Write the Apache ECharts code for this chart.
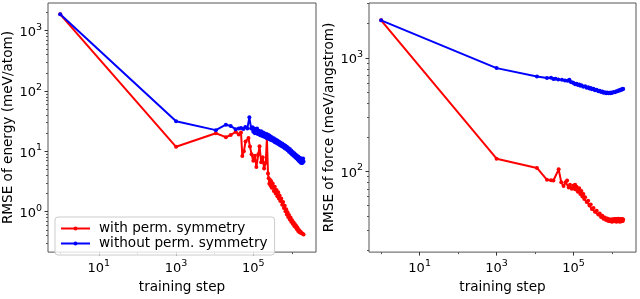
<!DOCTYPE html>
<html><head><meta charset="utf-8">
<script src="https://cdn.jsdelivr.net/npm/echarts@6/dist/echarts.min.js"></script>
<style>html,body{margin:0;padding:0;background:#fff}#c{width:640px;height:299px}</style>
</head><body><div id="c"></div>
<script>
// ---------- data ----------
const seriesNames = ['with perm. symmetry', 'without perm. symmetry'];
const xAxisName = 'training step';
const energyAxisName = 'RMSE of energy (meV/atom)';
const forceAxisName = 'RMSE of force (meV/angstrom)';

const xTickValues = [10, 1000, 100000];
const xMinorTickValues = [1, 100, 10000, 1000000];
const energyTickValues = [1, 10, 100, 1000];
const forceTickValues = [100, 1000];

// [training step, RMSE]
const energyWith = [[1,1870],[1000,11.9],[10700,20],[19500,17.2],[26000,18.7],[35000,21.1],[42000,19],[48000,20.6],[52000,8.4],[57000,10],[63000,14.6],[75000,16.6],[82000,12],[90000,9.0],[100000,7.0],[110000,8.5],[120000,5.5],[135000,9],[145000,12.2],[160000,6.6],[175000,8],[190000,5.2],[210000,6.5],[225000,16.6],[240000,4.3],
 [250000,3.6],[260000,2.9],[270000,3.4],[280000,2.7],[290000,3.2],[300000,2.5],[320000,2.9],[340000,2.2],[360000,2.6],[380000,2.0],[400000,2.3],[420000,1.8],[440000,2.1],[460000,1.65],[480000,1.85],[500000,1.5],[530000,1.65],[560000,1.3],[590000,1.45],[620000,1.15],[650000,1.25],[680000,1.02],[710000,1.1],[740000,0.9],[770000,0.98],[800000,0.82],[840000,0.88],[880000,0.74],[920000,0.8],[960000,0.68],[1000000,0.73],[1050000,0.63],[1100000,0.67],[1150000,0.58],[1200000,0.62],[1250000,0.55],[1300000,0.58],[1350000,0.51],[1400000,0.54],[1450000,0.48],[1500000,0.5],[1550000,0.46],[1600000,0.48],[1650000,0.45],[1700000,0.46],[1800000,0.44],[1900000,0.43],[2000000,0.42]];

const energyWithout = [[1,1870],[1000,31.6],[10700,22.5],[19500,27.7],[26000,26.3],[35000,23.3],[42000,24],[48000,24.5],[55000,23.5],[62000,25.4],[70000,24],[79000,36.7],[88000,23.9],[95000,25],
 [100000,21.1],[105000,24],[110000,20],[115000,23.5],[120000,21],[125000,24],[130000,19.5],[140000,22],[150000,18.5],[160000,21.5],[170000,18],[180000,20.5],[190000,17.5],[200000,19.8],[210000,17],[220000,19.5],[230000,16.5],[240000,18.8],[250000,16.2],[260000,18.3],[270000,15.8],[280000,17.6],[290000,15.5],[300000,17.2],[320000,15],[340000,16.5],[360000,14.2],[380000,15.8],[400000,13.8],[420000,15.2],[440000,13.2],[460000,14.6],[480000,12.8],[500000,14],[530000,12.3],[560000,13.5],[590000,11.8],[620000,12.9],[650000,11.3],[680000,12.4],[710000,10.9],[740000,11.9],[770000,10.4],[800000,11.4],[840000,9.9],[880000,10.9],[920000,9.4],[960000,10.3],[1000000,8.9],[1050000,9.8],[1100000,8.5],[1150000,9.3],[1200000,8.1],[1250000,8.9],[1300000,7.7],[1350000,8.5],[1400000,7.3],[1450000,8.2],[1500000,7.0],[1550000,7.9],[1600000,6.7],[1650000,7.7],[1700000,6.5],[1750000,7.6],[1800000,6.4],[1850000,7.5],[1900000,6.5],[1950000,7.6],[2000000,6.8]];

const forceWith = [[1,2140],[1000,129],[11200,107],[20400,84],[26000,83.5],[30000,83],[41000,104],[48000,80],[55000,74],[62000,80],[68000,83],[75000,72],[81000,76],[90000,70],
 [100000,75],[105000,70],[110000,76],[115000,69],[120000,73],[130000,66],[140000,71],[150000,63],[160000,67],[170000,60],[180000,63],[190000,57],[200000,59],[220000,53.5],[240000,55],[260000,50],[280000,51],[300000,46.5],[330000,47.5],[360000,44],[400000,45],[440000,41.5],[480000,42.5],[520000,39.5],[560000,40.5],[600000,38.2],[650000,39.2],[700000,37.2],[750000,38.4],[800000,36.5],[850000,37.8],[900000,36.2],[950000,37.6],[1000000,36],[1050000,37.8],[1100000,36.3],[1150000,38],[1200000,36.2],[1250000,37.9],[1300000,36],[1350000,38],[1400000,36.3],[1450000,38.1],[1500000,36.2],[1550000,37.8],[1600000,36],[1650000,38],[1700000,36.3],[1750000,37.9],[1800000,36.2],[1850000,38],[1900000,36.4],[1950000,37.5]];

const forceWithout = [[1,2140],[1000,811],[11200,685],[20400,664],[26000,668],[30000,652],[34000,655],[40000,643],[50000,640],[60000,632],[70000,628],[78000,640],[85000,612],[95000,605],
 [100000,600],[110000,585],[120000,592],[130000,575],[140000,582],[150000,566],[160000,572],[180000,556],[200000,562],[220000,545],[240000,550],[260000,537],[280000,543],[300000,528],[330000,533],[360000,518],[400000,522],[440000,508],[480000,513],[520000,500],[560000,505],[600000,493],[650000,498],[700000,488],[750000,494],[800000,486],[850000,492],[900000,487],[950000,494],[1000000,490],[1100000,499],[1200000,497],[1300000,506],[1400000,508],[1500000,517],[1600000,516],[1700000,525],[1800000,524],[1900000,533],[1950000,530]];

// ---------- chart ----------
const FONT = 'DejaVu Sans';
const RED = '#ff0000', BLUE = '#0000ff';
const minorDecadeTicks = (lo, hi) => { const out = []; for (let e = lo; e <= hi; e++) for (let m = 2; m <= 9; m++) out.push(m * Math.pow(10, e)); return out; };

const powLabel = v => '{b|10}{s|' + Math.round(Math.log10(v)) + '}';
const richLabel = {
  b: { fontFamily: FONT, fontSize: 13, color: '#000', padding: [4, 0, 0, 0], verticalAlign: 'bottom' },
  s: { fontFamily: FONT, fontSize: 9.5, color: '#000', verticalAlign: 'top' }
};
const nameStyle = { fontFamily: FONT, fontSize: 13.6, color: '#000' };

const X_MIN = 0.483, X_MAX = 4.2e6;
function xAxes(gridIndex) {
  return [{
    type: 'log', gridIndex, min: X_MIN, max: X_MAX,
    name: xAxisName, nameLocation: 'middle', nameGap: 22, nameTextStyle: nameStyle,
    axisLine: { show: false },
    splitLine: { show: false },
    axisTick: { show: true, length: 3.5, lineStyle: { color: '#333' }, customValues: xTickValues },
    axisLabel: { show: true, margin: 6, customValues: xTickValues, formatter: powLabel, rich: richLabel }
  }, {
    type: 'log', gridIndex, min: X_MIN, max: X_MAX, position: 'bottom',
    axisLine: { show: false }, splitLine: { show: false }, axisLabel: { show: false },
    axisTick: { show: true, length: 2, lineStyle: { color: '#555' }, customValues: xMinorTickValues }
  }];
}
function yAxes(gridIndex, min, max, ticks, minor, name, gap) {
  return [{
    type: 'log', gridIndex, min, max,
    name, nameLocation: 'middle', nameGap: gap, nameTextStyle: nameStyle,
    axisLine: { show: false }, splitLine: { show: false },
    axisTick: { show: true, length: 3.5, lineStyle: { color: '#333' }, customValues: ticks },
    axisLabel: { show: true, margin: 6, customValues: ticks, formatter: powLabel, rich: richLabel }
  }, {
    type: 'log', gridIndex, min, max, position: 'left',
    axisLine: { show: false }, splitLine: { show: false }, axisLabel: { show: false },
    axisTick: { show: true, length: 2, lineStyle: { color: '#555' }, customValues: minor }
  }];
}
function line(name, color, data, xi, yi) {
  return {
    type: 'line', name, data, xAxisIndex: xi, yAxisIndex: yi,
    symbol: 'circle', symbolSize: 4, showSymbol: true,
    lineStyle: { color, width: 2 }, itemStyle: { color },
    emphasis: { disabled: true }, animation: false
  };
}

const energyMinor = minorDecadeTicks(-1, 3).filter(v => v > 0.214 && v < 2880);
const forceMinor = minorDecadeTicks(1, 3).filter(v => v > 19.4 && v < 3040);

const chart = echarts.init(document.getElementById('c'), null, { renderer: 'canvas' });
chart.setOption({
  animation: false,
  backgroundColor: '#fff',
  grid: [
    { left: 48, top: 3, width: 268, height: 259, show: true, borderColor: '#555', borderWidth: 1, backgroundColor: 'transparent' },
    { left: 369, top: 3, width: 267, height: 259, show: true, borderColor: '#555', borderWidth: 1, backgroundColor: 'transparent' }
  ],
  xAxis: xAxes(0).concat(xAxes(1)),
  yAxis: yAxes(0, 0.214, 2880, energyTickValues, energyMinor, energyAxisName, 32)
    .concat(yAxes(1, 19.4, 3040, forceTickValues, forceMinor, forceAxisName, 33)),
  legend: {
    orient: 'vertical', left: 55, top: 217,
    data: seriesNames,
    itemWidth: 29, itemHeight: 5, itemGap: 0,
    padding: [4, 7, 4, 5],
    backgroundColor: 'rgba(255,255,255,0.8)', borderColor: '#ccc', borderWidth: 1, borderRadius: 3,
    textStyle: { fontFamily: FONT, fontSize: 13.6, color: '#000', lineHeight: 15, padding: [0, 0, 0, 4] }
  },
  series: [
    line(seriesNames[0], RED, energyWith, 0, 0),
    line(seriesNames[1], BLUE, energyWithout, 0, 0),
    line(seriesNames[0], RED, forceWith, 2, 2),
    line(seriesNames[1], BLUE, forceWithout, 2, 2)
  ]
});
</script>
</body></html>
